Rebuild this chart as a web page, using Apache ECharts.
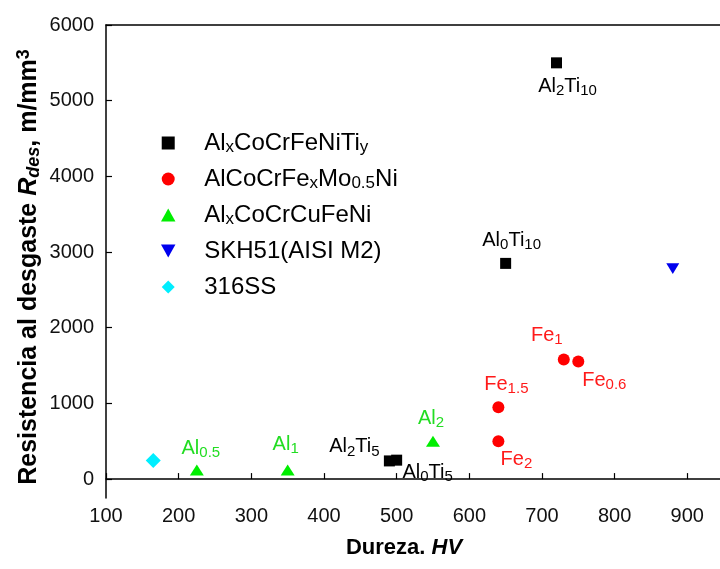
<!DOCTYPE html>
<html><head><meta charset="utf-8">
<script src="https://cdn.jsdelivr.net/npm/echarts@6/dist/echarts.min.js"></script>
<style>html,body{margin:0;padding:0;background:#fff}#c{width:720px;height:569px}</style>
</head><body><div id="c"></div>
<script>
// ---- data ----
const xTicks = [100, 200, 300, 400, 500, 600, 700, 800, 900];
const yTicks = [0, 1000, 2000, 3000, 4000, 5000, 6000];
const seriesNames = ['AlxCoCrFeNiTiy', 'AlCoCrFexMo0.5Ni', 'AlxCoCrCuFeNi', 'SKH51(AISI M2)', '316SS'];

const alTiX = [720, 650, 490, 500];
const alTiY = [5500, 2850, 240, 250];
const alTiLabels = ['Al2Ti10', 'Al0Ti10', 'Al2Ti5', 'Al0Ti5'];

const feX = [730, 750, 640, 640];
const feY = [1580, 1555, 950, 500];
const feLabels = ['Fe1', 'Fe0.6', 'Fe1.5', 'Fe2'];

const cuX = [225, 350, 550];
const cuY = [120, 120, 500];
const cuLabels = ['Al0.5', 'Al1', 'Al2'];

const skhX = [880];
const skhY = [2780];

const ssX = [165];
const ssY = [245];

// ---- layout / style (not data) ----
const FONT = '"Liberation Sans", Arial, sans-serif';
const X_MIN = 100, X_MAX = 945, Y_MIN = -250, Y_MAX = 6000;
const SYM_SQUARE = 'path://M0,0 L10,0 L10,10 L0,10 Z';
const SYM_TRI_UP = 'path://M5,0 L10,9 L0,9 Z';
const SYM_TRI_DOWN = 'path://M0,0 L10,0 L5,9 Z';
const SYM_DIAMOND = 'path://M5,0 L10,5 L5,10 L0,5 Z';
const labelOffsets = {
  'Al2Ti10': [11, 24], 'Al0Ti10': [6, -23], 'Al2Ti5': [-35, -14], 'Al0Ti5': [31, 12],
  'Al0.5': [4, -22], 'Al1': [-2, -26], 'Al2': [-2, -23],
  'Fe1': [-17, -24], 'Fe0.6': [26, 19], 'Fe1.5': [8, -23], 'Fe2': [18, 18]
};
const legendRichNames = {
  'AlxCoCrFeNiTiy': 'Al{s|x}CoCrFeNiTi{s|y}',
  'AlCoCrFexMo0.5Ni': 'AlCoCrFe{s|x}Mo{s|0.5}Ni',
  'AlxCoCrCuFeNi': 'Al{s|x}CoCrCuFeNi',
  'SKH51(AISI M2)': 'SKH51(AISI M2)',
  '316SS': '316SS'
};
function toRich(t) { return t.replace(/([0-9.]+)/g, '{s|$1}'); }

function buildData(xs, ys, labels, color) {
  return xs.map((x, i) => {
    const item = { value: [x, ys[i]] };
    if (labels) {
      const lab = labels[i];
      item.label = {
        show: true, position: 'inside', offset: labelOffsets[lab],
        formatter: toRich(lab), color: color, fontSize: 20, lineHeight: 24, fontFamily: FONT,
        rich: { s: { fontSize: 15, lineHeight: 14, verticalAlign: 'bottom', color: color, fontFamily: FONT } }
      };
    }
    return item;
  });
}

const axisLineStyle = { color: '#000', width: 1.5 };
const chart = echarts.init(document.getElementById('c'), null, { renderer: 'canvas' });
chart.setOption({
  animation: false,
  backgroundColor: '#fff',
  grid: { left: 106, top: 25, right: 0, bottom: 71, show: false },
  xAxis: [{
    type: 'value', min: X_MIN, max: X_MAX,
    axisLine: { lineStyle: axisLineStyle },
    axisTick: { inside: true, length: 6, customValues: xTicks, lineStyle: { color: '#000', width: 1.2 } },
    splitLine: { show: false },
    axisLabel: { fontSize: 20, color: '#111', margin: 8, fontFamily: FONT, customValues: xTicks, formatter: v => String(v) }
  }, {
    type: 'value', position: 'top', min: X_MIN, max: X_MAX,
    axisLine: { show: true, lineStyle: axisLineStyle },
    axisTick: { show: false }, axisLabel: { show: false }, splitLine: { show: false }
  }],
  yAxis: {
    type: 'value', min: Y_MIN, max: Y_MAX,
    axisLine: { show: true, lineStyle: axisLineStyle },
    axisTick: { show: true, inside: true, length: 6, customValues: yTicks, lineStyle: { color: '#000', width: 1.2 } },
    splitLine: { show: false },
    axisLabel: { fontSize: 20, color: '#111', margin: 12, fontFamily: FONT, customValues: yTicks, formatter: v => String(v) },
    name: 'Resistencia al desgaste {i|R}{is|des}{n|, m/mm}{sup|3}',
    nameLocation: 'middle', nameRotate: 90, nameGap: 63, nameMoveOverlap: false,
    nameTextStyle: {
      fontSize: 25, fontWeight: 'bold', color: '#000', fontFamily: FONT, lineHeight: 28,
      padding: [0, 11, 0, 0],
      rich: {
        i: { fontSize: 25, fontWeight: 'bold', fontStyle: 'italic', fontFamily: FONT, color: '#000', lineHeight: 28 },
        is: { fontSize: 18, fontWeight: 'bold', fontStyle: 'italic', fontFamily: FONT, color: '#000', lineHeight: 16, verticalAlign: 'bottom' },
        n: { fontSize: 25, fontWeight: 'bold', fontFamily: FONT, color: '#000', lineHeight: 28 },
        sup: { fontSize: 18, fontWeight: 'bold', fontFamily: FONT, color: '#000', lineHeight: 16, verticalAlign: 'top' }
      }
    }
  },
  legend: {
    data: seriesNames, orient: 'vertical', left: 156, top: 125,
    itemWidth: 62, itemHeight: 13, itemGap: 10,
    formatter: n => legendRichNames[n],
    textStyle: {
      fontSize: 24, color: '#000', fontFamily: FONT, lineHeight: 26,
      rich: { s: { fontSize: 17, lineHeight: 14, verticalAlign: 'bottom', color: '#000', fontFamily: FONT } }
    }
  },
  graphic: [{
    type: 'text', x: 404, y: 548,
    style: {
      text: 'Dureza. {i|HV}', fontSize: 22, fontWeight: 'bold', fontFamily: FONT, fill: '#000',
      align: 'center', verticalAlign: 'middle',
      rich: { i: { fontSize: 22, fontWeight: 'bold', fontStyle: 'italic', fontFamily: FONT, fill: '#000' } }
    }
  }],
  series: [
    { name: seriesNames[0], type: 'scatter', symbol: SYM_SQUARE, symbolSize: 11, symbolKeepAspect: true, itemStyle: { color: '#000', opacity: 1 }, data: buildData(alTiX, alTiY, alTiLabels, '#000') },
    { name: seriesNames[1], type: 'scatter', symbol: 'circle', symbolSize: 12, symbolKeepAspect: true, itemStyle: { color: '#ff0000', opacity: 1 }, data: buildData(feX, feY, feLabels, '#ff1a1a') },
    { name: seriesNames[2], type: 'scatter', symbol: SYM_TRI_UP, symbolSize: [14, 12], symbolKeepAspect: true, itemStyle: { color: '#00ee00', opacity: 1 }, data: buildData(cuX, cuY, cuLabels, '#22dd22') },
    { name: seriesNames[3], type: 'scatter', symbol: SYM_TRI_DOWN, symbolSize: [13, 12], symbolKeepAspect: true, itemStyle: { color: '#0000ee', opacity: 1 }, data: buildData(skhX, skhY, null) },
    { name: seriesNames[4], type: 'scatter', symbol: SYM_DIAMOND, symbolSize: 15, symbolKeepAspect: true, itemStyle: { color: '#00eeff', opacity: 1 }, data: buildData(ssX, ssY, null) }
  ]
});
</script>
</body></html>
